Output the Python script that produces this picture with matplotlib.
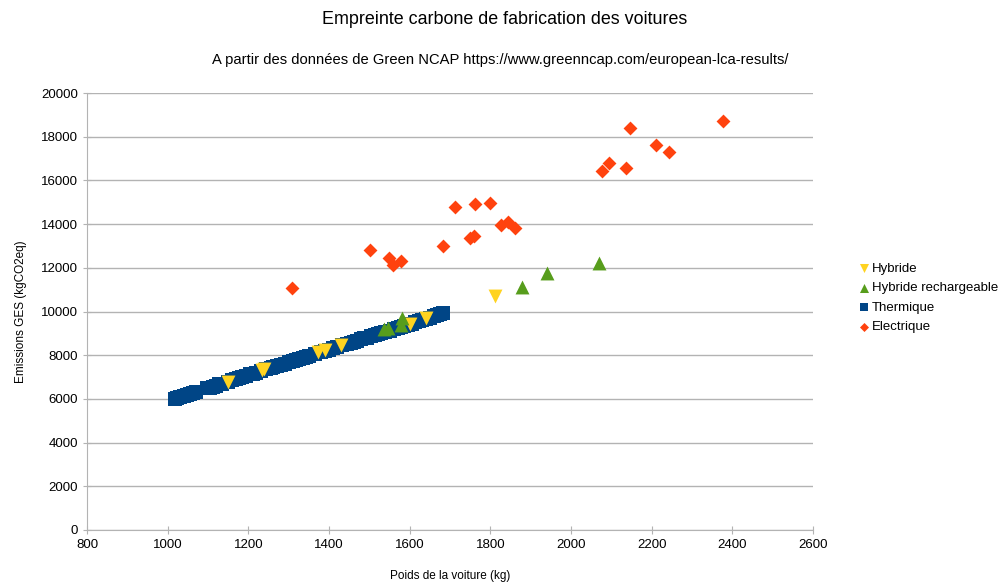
import matplotlib
matplotlib.use("Agg")
import matplotlib.pyplot as plt

plt.rcParams['font.family'] = ['Liberation Sans', 'DejaVu Sans']

# --- Data ---
hyb_x = [1150, 1233, 1240, 1373, 1390, 1429, 1601, 1640, 1812]
hyb_y = [6790, 7330, 7360, 8160, 8230, 8480, 9440, 9690, 10710]

phev_x = [1536, 1546, 1578, 1580, 1878, 1940, 2070]
phev_y = [9200, 9230, 9400, 9690, 11140, 11750, 12210]

therm_x = [1018, 1022, 1030, 1040, 1048, 1055, 1062, 1070, 1098, 1105,
           1112, 1120, 1128, 1135, 1150, 1160, 1170, 1178, 1185, 1195,
           1205, 1212, 1220, 1232, 1245, 1255, 1262, 1270, 1282, 1290,
           1300, 1310, 1318, 1325, 1335, 1342, 1350, 1365, 1380, 1390,
           1400, 1410, 1420, 1432, 1445, 1455, 1462, 1470, 1480, 1488,
           1495, 1505, 1515, 1522, 1530, 1540, 1550, 1560, 1570, 1578,
           1585, 1595, 1605, 1612, 1622, 1630, 1640, 1650, 1660, 1668,
           1675, 1682]
therm_y = [6000, 6050, 6090, 6150, 6200, 6230, 6270, 6300, 6480, 6520,
           6560, 6600, 6660, 6700, 6780, 6850, 6900, 6950, 7000, 7060,
           7120, 7160, 7200, 7270, 7350, 7420, 7460, 7500, 7570, 7620,
           7680, 7740, 7790, 7830, 7880, 7920, 7960, 8050, 8140, 8200,
           8260, 8320, 8380, 8450, 8520, 8580, 8620, 8660, 8720, 8770,
           8810, 8870, 8930, 8970, 9010, 9070, 9130, 9180, 9240, 9290,
           9330, 9400, 9450, 9500, 9550, 9610, 9660, 9720, 9800, 9850,
           9900, 9950]

elec_x = [1308, 1502, 1549, 1559, 1579, 1683, 1712, 1750, 1760, 1762,
          1800, 1826, 1843, 1862, 2076, 2094, 2137, 2147, 2210, 2242, 2376]
elec_y = [11080, 12820, 12470, 12130, 12330, 13010, 14800, 13380, 13460, 14920,
          14970, 13980, 14110, 13810, 16430, 16810, 16590, 18420, 17620, 17290, 18730]

series_labels = ["Hybride", "Hybride rechargeable", "Thermique", "Electrique"]
x_ticks = list(range(800, 2601, 200))
y_ticks = list(range(0, 20001, 2000))

fig = plt.figure(figsize=(9.98, 5.83), dpi=100)
ax = fig.add_axes([87/998, 53/583, 726/998, 437/583])

ax.scatter(therm_x, therm_y, marker='s', s=95, color='#004586', label=series_labels[2], zorder=3, linewidths=0)
ax.scatter(hyb_x, hyb_y, marker='v', s=100, color='#ffd320', label=series_labels[0], zorder=4, linewidths=0)
ax.scatter(phev_x, phev_y, marker='^', s=100, color='#579d1c', label=series_labels[1], zorder=4, linewidths=0)
ax.scatter(elec_x, elec_y, marker='D', s=50, color='#ff420e', label=series_labels[3], zorder=4, linewidths=0)

ax.set_xlim(800, 2600)
ax.set_ylim(0, 20000)
ax.set_xticks(x_ticks)
ax.set_yticks(y_ticks)
ax.tick_params(axis='both', labelsize=9.5, color='#b3b3b3', direction='inout', length=6, labelcolor='#000000')
ax.grid(axis='y', color='#b3b3b3', linewidth=1)
ax.set_axisbelow(True)
for s in ['top', 'right']:
    ax.spines[s].set_visible(False)
for s in ['left', 'bottom']:
    ax.spines[s].set_color('#b3b3b3')

ax.set_xlabel("Poids de la voiture (kg)", fontsize=8.5, labelpad=14)
ax.set_ylabel("Emissions GES (kgCO2eq)", fontsize=8.5, labelpad=10)

fig.text(505/998, 1 - 20/583, "Empreinte carbone de fabrication des voitures", ha='center', va='center', fontsize=12.9)
fig.text(500/998, 1 - 60/583, "A partir des données de Green NCAP https://www.greenncap.com/european-lca-results/", ha='center', va='center', fontsize=10.6)

handles, labels = ax.get_legend_handles_labels()
order = [labels.index(l) for l in series_labels]
fig.legend([handles[i] for i in order], [labels[i] for i in order],
           loc='center left', bbox_to_anchor=(852/998, 1 - 298/583),
           frameon=False, fontsize=9.5, handletextpad=0.1, labelspacing=0.55,
           markerscale=0.65, handlelength=1.0, borderaxespad=0)

fig.savefig("out.png", dpi=100)
